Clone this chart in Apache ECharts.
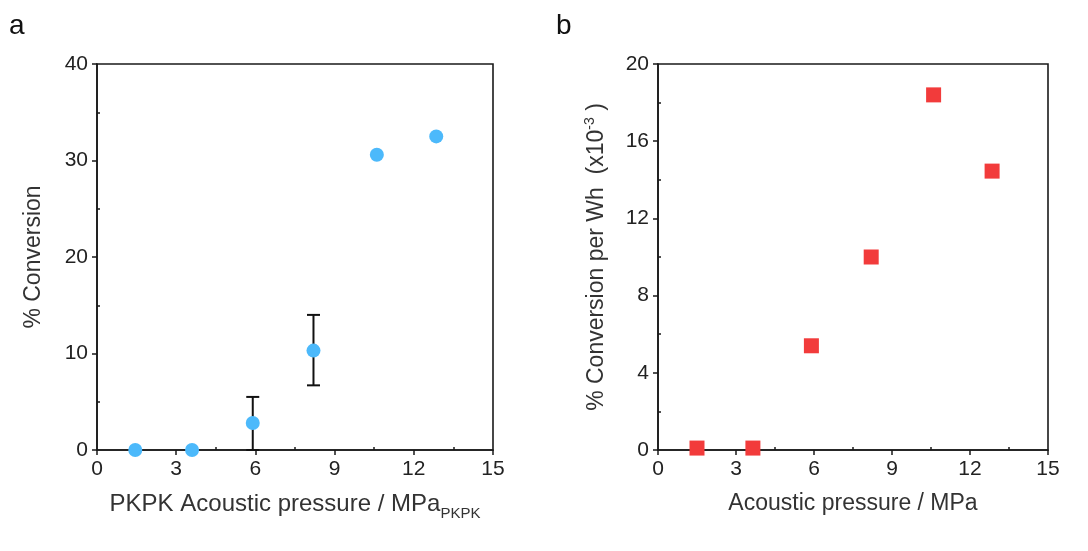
<!DOCTYPE html>
<html><head><meta charset="utf-8">
<script src="https://cdn.jsdelivr.net/npm/echarts@6/dist/echarts.min.js"></script>
<style>html,body{margin:0;padding:0;background:#fff}#c{width:1088px;height:551px}</style>
</head><body><div id="c"></div>
<script>
const pressureA = [1.45, 3.6, 5.9, 8.2, 10.6, 12.85];
const conversionA = [0, 0, 2.8, 10.3, 30.6, 32.5];
const errLowA = [null, null, 0.0, 6.7, null, null];
const errHighA = [null, null, 5.5, 14.0, null, null];
const pressureB = [1.5, 3.65, 5.9, 8.2, 10.6, 12.85];
const conversionPerWhB = [0.1, 0.1, 5.4, 10.0, 18.4, 14.45];

const chart = echarts.init(document.getElementById('c'));
const font = 'Liberation Sans, Arial, sans-serif';
const black = '#1a1a1a';
const titleSize = 23;
const labelSize = 21;
function xAx(grid, name, nameRich) {
  return [{
    type: 'value', gridIndex: grid, min: 0, max: 15, interval: 3,
    name: name, nameLocation: 'middle', nameGap: 42,
    nameTextStyle: { fontSize: titleSize, color: '#333', fontFamily: font, rich: nameRich },
    axisLine: { show: true, onZero: false, lineStyle: { color: black, width: 1.6 } },
    axisTick: { show: true, inside: false, length: 5, lineStyle: { color: black, width: 1.5 } },
    axisLabel: { fontSize: labelSize, color: '#222', fontFamily: font, margin: 9 },
    splitLine: { show: false }
  }, {
    type: 'value', gridIndex: grid, min: 0, max: 15, interval: 3, position: 'bottom',
    axisLine: { show: false }, axisLabel: { show: false },
    axisTick: { show: false, inside: true },
    minorTick: { show: true, splitNumber: 2, length: 3, lineStyle: { color: black, width: 1.5 } },
    splitLine: { show: false }
  }];
}
function yAx(grid, max, interval, name, nameRich, gap) {
  return [{
    type: 'value', gridIndex: grid, min: 0, max: max, interval: interval,
    name: name, nameLocation: 'middle', nameGap: gap,
    nameTextStyle: { fontSize: titleSize, color: '#333', fontFamily: font, rich: nameRich },
    axisLine: { show: true, onZero: false, lineStyle: { color: black, width: 1.6 } },
    axisTick: { show: true, inside: false, length: 5, lineStyle: { color: black, width: 1.5 } },
    axisLabel: { fontSize: labelSize, color: '#222', fontFamily: font, margin: 9 },
    splitLine: { show: false }
  }, {
    type: 'value', gridIndex: grid, min: 0, max: max, interval: interval, position: 'left',
    axisLine: { show: false }, axisLabel: { show: false },
    axisTick: { show: false, inside: true },
    minorTick: { show: true, splitNumber: 2, length: 3, lineStyle: { color: black, width: 1.5 } },
    splitLine: { show: false }
  }];
}
const errData = pressureA.map((x, i) => [x, errLowA[i], errHighA[i]]).filter(d => d[1] !== null);

chart.setOption({
  animation: false,
  textStyle: { fontFamily: font },
  graphic: [
    { type: 'text', left: 9, top: 12, style: { text: 'a', fontSize: 28, fill: '#111', fontFamily: font } },
    { type: 'text', left: 556, top: 12, style: { text: 'b', fontSize: 28, fill: '#111', fontFamily: font } }
  ],
  grid: [
    { left: 97, right: 595, top: 64, bottom: 101, show: true, borderColor: black, borderWidth: 1.6, backgroundColor: 'transparent' },
    { left: 658, right: 40, top: 64, bottom: 101, show: true, borderColor: black, borderWidth: 1.6, backgroundColor: 'transparent' }
  ],
  xAxis: [
    ...xAx(0, '{t|PKPK Acoustic pressure / MPa}{s|PKPK}', {
      t: { fontSize: 24, color: '#333', fontFamily: font, verticalAlign: 'bottom' },
      s: { fontSize: 15, color: '#333', fontFamily: font, verticalAlign: 'bottom', padding: [0, 0, -5, 0] }
    }),
    ...xAx(1, 'Acoustic pressure / MPa', null)
  ],
  yAxis: [
    ...yAx(0, 40, 10, '% Conversion', null, 52),
    ...yAx(1, 20, 4, '{t|% Conversion per Wh  (x10}{s|-3}{t| )}', {
      t: { fontSize: titleSize, color: '#333', fontFamily: font, verticalAlign: 'bottom' },
      s: { fontSize: 14, color: '#333', fontFamily: font, verticalAlign: 'bottom', padding: [0, 0, 11, 0] }
    }, 50)
  ],
  series: [
    {
      type: 'custom', xAxisIndex: 0, yAxisIndex: 0, z: 3,
      data: errData,
      renderItem: function (params, api) {
        const lo = api.coord([api.value(0), api.value(1)]);
        const hi = api.coord([api.value(0), api.value(2)]);
        const w = 6.5;
        const st = { stroke: '#111', lineWidth: 2 };
        return { type: 'group', children: [
          { type: 'line', shape: { x1: lo[0], y1: lo[1], x2: hi[0], y2: hi[1] }, style: st },
          { type: 'line', shape: { x1: lo[0] - w, y1: lo[1], x2: lo[0] + w, y2: lo[1] }, style: st },
          { type: 'line', shape: { x1: hi[0] - w, y1: hi[1], x2: hi[0] + w, y2: hi[1] }, style: st }
        ] };
      }
    },
    {
      type: 'scatter', xAxisIndex: 0, yAxisIndex: 0, z: 4,
      symbol: 'circle', symbolSize: 14,
      itemStyle: { color: '#4cb9fb', opacity: 1 },
      data: pressureA.map((x, i) => [x, conversionA[i]])
    },
    {
      type: 'scatter', xAxisIndex: 2, yAxisIndex: 2, z: 4,
      symbol: 'rect', symbolSize: 15,
      itemStyle: { color: '#f23b3b', opacity: 1 },
      data: pressureB.map((x, i) => [x, conversionPerWhB[i]])
    }
  ]
});
</script>
</body></html>
